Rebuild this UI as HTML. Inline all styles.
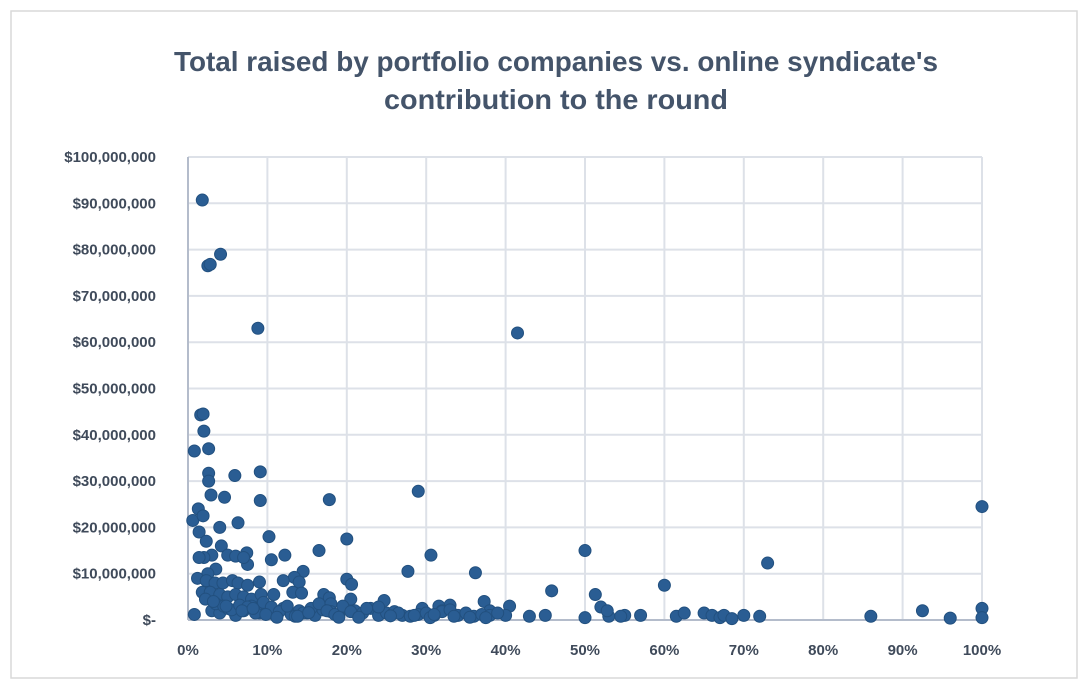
<!DOCTYPE html>
<html><head><meta charset="utf-8"><style>
html,body{margin:0;padding:0;background:#fff;}
svg{display:block;font-family:"Liberation Sans",sans-serif;}
</style></head><body>
<svg id="chart" width="1088" height="688" viewBox="0 0 1088 688" xmlns="http://www.w3.org/2000/svg">
<rect x="11" y="11" width="1066" height="667" fill="#fff" stroke="#d9d9d9" stroke-width="1.5"/>
<text x="556" y="71" text-anchor="middle" font-size="28" font-weight="bold" fill="#44546a" textLength="764" lengthAdjust="spacingAndGlyphs">Total raised by portfolio companies vs. online syndicate's</text>
<text x="556" y="109" text-anchor="middle" font-size="28" font-weight="bold" fill="#44546a" textLength="344" lengthAdjust="spacingAndGlyphs">contribution to the round</text>
<g id="grid"></g><g id="axes"></g><g id="pts"></g>
</svg>
<script>
const yTicks=[0,10,20,30,40,50,60,70,80,90,100];
const yTickLabels=["$-","$10,000,000","$20,000,000","$30,000,000","$40,000,000","$50,000,000","$60,000,000","$70,000,000","$80,000,000","$90,000,000","$100,000,000"];
const xTicks=[0,10,20,30,40,50,60,70,80,90,100];
const xTickLabels=["0%","10%","20%","30%","40%","50%","60%","70%","80%","90%","100%"];
// contribution (%)
const contribution=[1.8,2.5,2.8,4.1,8.8,41.5,1.6,1.9,2.0,0.8,2.6,2.6,2.6,9.1,5.9,2.9,4.6,9.1,17.8,29,100,0.6,1.3,1.4,6.3,4,20,1.9,2.3,10.2,16.5,12.2,10.5,30.6,50,73,36.2,27.7,60,45.8,51.3,37.3,52,14.5,20,20.6,13.4,14,12,7.4,7.5,4.2,3,2,1.4,5,6,7,3.5,2.5,1.2,2.3,3.4,4.4,5.6,6.3,7.5,9,1.8,2.8,4,5,6,7,8,9.2,10.8,13.2,14.3,17.1,17.8,18,20.5,24.7,33,31.6,29.5,32,40.5,38,
40,43,45,50,53,55,57,61.5,62.5,65,66,67,67.5,68.5,70,72,86,92.5,96,100,100,0.8,
3,4,5,6,7,8,9,10,11,12,13,14,15,16,17,18,19,21,22,23,24,25,26,27,28,29,30,31,32,33,34,35,36,37,38,39,
3.5,4.5,5.5,6.5,7.5,8.5,9.5,10.5,11.5,12.5,13.5,14.5,15.5,16.5,17.5,18.5,19.5,20.5,22.5,24,26.5,28.5,30.5,33.5,2.2,3.2,4.8,6.8,8.2,9.8,11.2,13.8,15.2,19,21.5,25.5,31,35.5,37.5,52.8,54.5];
// total raised ($M)
const raised=[90.7,76.5,76.8,79,63,62,44.3,44.5,40.8,36.5,37,31.7,30,32,31.2,27,26.5,25.8,26,27.8,24.5,21.5,24,19,21,20,17.5,22.5,17,18,15,14,13,14,15,12.3,10.2,10.5,7.5,6.3,5.5,4,2.8,10.5,8.8,7.7,9.2,8.2,8.5,14.5,12,16,14,13.5,13.5,14,13.8,13.5,11,10,9,8.5,8,8,8.5,8,7.5,8.2,6,6,5.5,5,5.5,5,4.5,5.5,5.5,6,5.8,5.5,4.8,3.5,4.5,4.2,3.2,3,2.5,2,3,2,
1,0.8,1,0.5,0.8,1,1,0.8,1.5,1.5,1,0.5,1,0.3,1,0.8,0.8,2,0.4,2.5,0.5,1.2,
2,1.5,2.5,1,2,3,1.5,2,1,2.5,1.2,2,1.5,1,2.2,1.8,1,2,1.5,2.5,1,1.5,1.8,1,0.8,1.2,1.5,1,1.8,2.2,1,1.5,0.8,1.2,1,1.5,
3.5,3,2.2,3.2,2.8,1.5,3.8,2.8,1.8,3,0.8,1.5,2.5,3.5,2,1.2,3,1.8,2.5,2.8,1.5,1,0.5,0.8,4.5,4,3,2,2.5,1.2,0.6,0.8,1.6,0.6,0.6,0.9,1.2,0.6,0.5,2.0,0.8];
const X0=188,X1=982,Y0=620,Y1=157;
const xs=v=>X0+(X1-X0)*v/100, ys=v=>Y0-(Y0-Y1)*v/100;
const NS="http://www.w3.org/2000/svg";
function mk(tag,attrs,parent,txt){const e=document.createElementNS(NS,tag);for(const k in attrs)e.setAttribute(k,attrs[k]);if(txt!==undefined)e.textContent=txt;parent.appendChild(e);return e;}
const grid=document.getElementById('grid'),axes=document.getElementById('axes'),pts=document.getElementById('pts');
yTicks.forEach((t,i)=>{
 if(t>0){const l=mk('line',{x1:X0,x2:X1,y1:ys(t),y2:ys(t),stroke:'#dde1e8','stroke-width':2},grid);
 
 }
 const tx=mk('text',{x:156,y:ys(t)+5,'text-anchor':'end','font-size':15,'font-weight':'bold',fill:'#3f4a5a'},axes,yTickLabels[i]);
 
 
});
xTicks.forEach((t,i)=>{
 if(t>0){const l=mk('line',{x1:xs(t),x2:xs(t),y1:Y1,y2:Y0,stroke:'#dde1e8','stroke-width':2},grid);
 
 }
 const tx=mk('text',{x:xs(t),y:655,'text-anchor':'middle','font-size':15,'font-weight':'bold',fill:'#3f4a5a'},axes,xTickLabels[i]);
 
 
});
const ya=mk('line',{x1:X0,x2:X0,y1:Y1,y2:Y0,stroke:'#b4bccb','stroke-width':2},axes);


const xa=mk('line',{x1:X0,x2:X1,y1:Y0,y2:Y0,stroke:'#b4bccb','stroke-width':2},axes);


contribution.forEach((c,i)=>{
 const p=mk('circle',{cx:xs(c),cy:ys(raised[i]),r:6,fill:'#2a5d93',stroke:'#22507f','stroke-width':1},pts);
 
 
});
</script>
</body></html>
